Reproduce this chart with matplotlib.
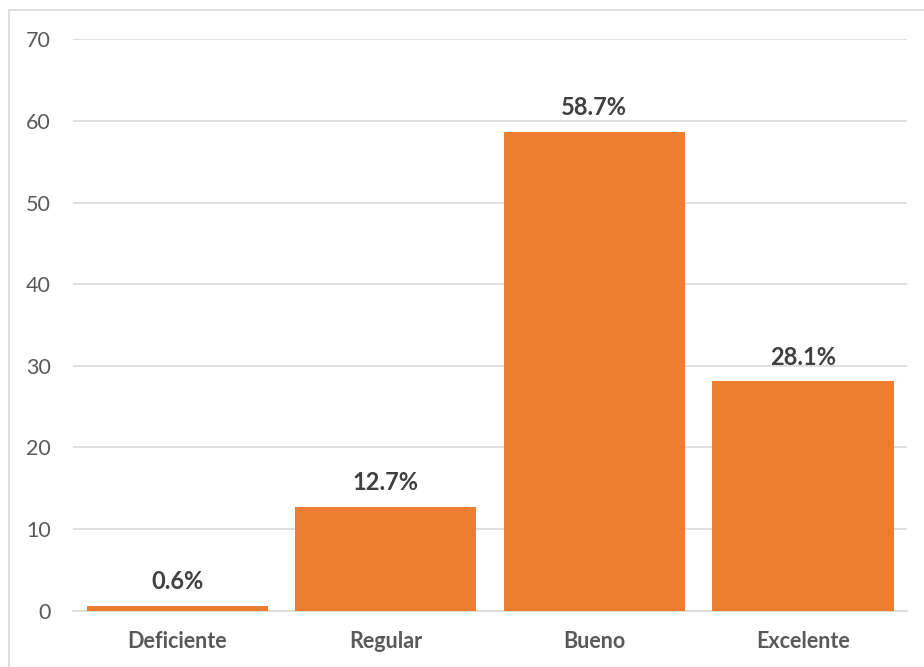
import matplotlib.pyplot as plt
from matplotlib.patches import Rectangle

categorias = ['Deficiente', 'Regular', 'Bueno', 'Excelente']
porcentajes = [0.6, 12.7, 58.7, 28.1]

plt.rcParams['font.family'] = ['Lato', 'DejaVu Sans']

fig = plt.figure(figsize=(9.24, 6.67), dpi=100)
ax = fig.add_axes([0.079, 0.0847, 0.9027, 0.8561])

x = range(len(categorias))
barras = ax.bar(x, porcentajes, width=0.87, color='#ED7D31', zorder=3)

for b, v in zip(barras, porcentajes):
    ax.annotate(f'{v}%', (b.get_x() + b.get_width() / 2, v),
                xytext=(0, 9), textcoords='offset points',
                ha='center', va='bottom', fontsize=17, fontweight='bold',
                color='#404040')

ax.set_xlim(-0.5, len(categorias) - 0.5)
ax.set_ylim(0, 70)
ax.set_yticks(range(0, 71, 10))
ax.set_xticks(list(x))
ax.set_xticklabels(categorias, fontsize=15.5, fontweight='bold', color='#595959')
ax.tick_params(axis='y', labelsize=15.5, labelcolor='#595959', length=0, pad=16)
ax.tick_params(axis='x', length=0, pad=15)
ax.grid(axis='y', color='#D9D9D9', linewidth=1.2, zorder=0)
for s in ['top', 'right', 'left']:
    ax.spines[s].set_visible(False)
ax.spines['bottom'].set_color('#D9D9D9')
ax.spines['bottom'].set_linewidth(1.2)

# marco del gráfico
fig.patches.append(Rectangle((9 / 924, -0.1), 1.1, 1 - 10 / 667 + 0.1,
                             transform=fig.transFigure, fill=False,
                             edgecolor='#D9D9D9', linewidth=1.2))

fig.savefig('out.png', dpi=100)
